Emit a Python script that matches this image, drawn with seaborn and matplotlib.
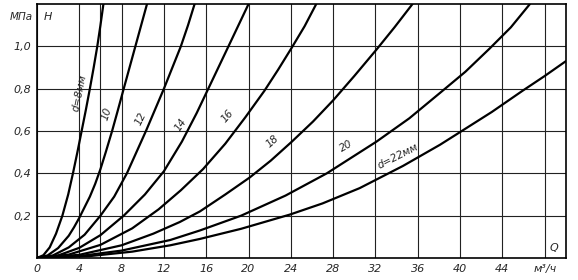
import numpy as np
import pandas as pd
import matplotlib
matplotlib.use("Agg")
import matplotlib.pyplot as plt
import seaborn as sns

# Flow Q (m3/h) and head H (MPa), one curve per nozzle diameter
q_d8 = [0, 0.6, 1.2, 1.8, 2.4, 2.95, 3.4, 3.82, 4.22, 4.62, 5.0, 5.36, 5.7, 6.0, 6.28]
h_d8 = [0, 0.013, 0.05, 0.115, 0.2, 0.3, 0.4, 0.5, 0.6, 0.7, 0.8, 0.9, 1.0, 1.1, 1.2]
q_d10 = [0, 1.0, 2.0, 3.0, 3.5, 4.0, 4.5, 5.0, 5.5, 6.0, 6.5, 7.1, 7.6, 8.2, 8.75, 9.3, 9.85, 10.4]
h_d10 = [0, 0.012, 0.047, 0.105, 0.145, 0.19, 0.24, 0.29, 0.35, 0.42, 0.5, 0.6, 0.69, 0.8, 0.9, 1.0, 1.1, 1.2]
q_d12 = [0, 1.5, 3.0, 4.5, 6.0, 7.3, 8.5, 9.4, 10.3, 11.15, 12.0, 12.8, 13.6, 14.28, 14.9]
h_d12 = [0, 0.012, 0.05, 0.11, 0.2, 0.29, 0.4, 0.5, 0.6, 0.7, 0.8, 0.9, 1.0, 1.1, 1.2]
q_d14 = [0, 2.0, 4.0, 6.0, 8.2, 10.2, 12.0, 13.7, 15.1, 16.1, 17.1, 18.1, 19.05, 20.0]
h_d14 = [0, 0.012, 0.048, 0.108, 0.2, 0.3, 0.41, 0.55, 0.685, 0.79, 0.895, 1.0, 1.1, 1.2]
q_d16 = [0, 3.0, 6.0, 9.0, 11.5, 13.6, 15.7, 17.8, 19.7, 21.5, 22.8, 24.1, 25.3, 26.4]
h_d16 = [0, 0.016, 0.062, 0.14, 0.23, 0.32, 0.42, 0.54, 0.665, 0.79, 0.89, 0.995, 1.095, 1.2]
q_d18 = [0, 4.0, 8.0, 11.0, 13.5, 15.4, 17.8, 20.1, 22.1, 24.1, 26.1, 28.0, 30.0, 32.1, 33.8, 35.5]
h_d18 = [0, 0.015, 0.06, 0.115, 0.17, 0.22, 0.3, 0.38, 0.46, 0.55, 0.645, 0.745, 0.86, 0.985, 1.09, 1.2]
q_d20 = [0, 4.0, 8.0, 12.6, 15.4, 19.3, 23.5, 27.4, 32.1, 35.2, 38.1, 40.5, 42.8, 44.8, 46.6]
h_d20 = [0, 0.009, 0.035, 0.085, 0.13, 0.2, 0.295, 0.4, 0.55, 0.66, 0.78, 0.88, 0.99, 1.09, 1.2]
q_d22 = [0, 5.0, 9.0, 12.6, 15.4, 19.3, 23.9, 27.0, 30.5, 34.6, 38.1, 40.0, 43.0, 45.9, 48.0, 50.0]
h_d22 = [0, 0.009, 0.03, 0.06, 0.09, 0.138, 0.205, 0.258, 0.33, 0.435, 0.535, 0.595, 0.69, 0.79, 0.86, 0.93]

diameters = [8, 10, 12, 14, 16, 18, 20, 22]
curve_labels = ["d=8мм", "10", "12", "14", "16", "18", "20", "d=22мм"]
x_ticks = [0, 4, 8, 12, 16, 20, 24, 28, 32, 36, 40, 44, 48]
x_tick_labels = ["0", "4", "8", "12", "16", "20", "24", "28", "32", "36", "40", "44", "м³/ч"]
y_ticks = [0.2, 0.4, 0.6, 0.8, 1.0]
y_tick_labels = ["0,2", "0,4", "0,6", "0,8", "1,0"]

qs = [q_d8, q_d10, q_d12, q_d14, q_d16, q_d18, q_d20, q_d22]
hs = [h_d8, h_d10, h_d12, h_d14, h_d16, h_d18, h_d20, h_d22]
frames = []
for d, q, h in zip(diameters, qs, hs):
    frames.append(pd.DataFrame({"Q": q, "H": h, "d": d}))
df = pd.concat(frames, ignore_index=True)

sns.set_style("white")
plt.rcParams["font.family"] = ["DejaVu Sans"]

fig = plt.figure(figsize=(5.78, 2.80), dpi=100)
ax = fig.add_axes([0.064, 0.0786, 0.915, 0.907])

sns.lineplot(data=df, x="Q", y="H", hue="d", units="d", estimator=None, sort=False,
             palette=["black"] * len(diameters), linewidth=1.6, legend=False, ax=ax)
for ln in ax.get_lines():
    ln.set_solid_joinstyle("round")

ax.set_xlim(0, 50)
ax.set_ylim(0, 1.2)
ax.set_xticks(x_ticks)
ax.set_xticklabels(x_tick_labels, fontstyle="italic", fontsize=8)
ax.set_yticks(y_ticks)
ax.set_yticklabels(y_tick_labels, fontstyle="italic", fontsize=8)
ax.set_xticks(np.arange(2, 50, 4), minor=True)
ax.set_yticks(np.arange(0.1, 1.2, 0.2), minor=True)
ax.tick_params(axis="both", which="major", length=0, pad=4)
ax.tick_params(axis="both", which="minor", length=3, direction="in", width=0.8)
ax.grid(True, which="major", color="#222222", linewidth=0.8)
ax.axvline(6, color="#222222", linewidth=0.8, zorder=0.5)
ax.set_xlabel("")
ax.set_ylabel("")
for s in ax.spines.values():
    s.set_color("black")
    s.set_linewidth(1.2)

# axis annotations
ax.text(-1.45, 1.14, "МПа", fontsize=7.5, fontstyle="italic", ha="center", va="center", clip_on=False)
ax.text(1.0, 1.14, "H", fontsize=8, fontstyle="italic", ha="center", va="center")
ax.text(48.9, 0.045, "Q", fontsize=8, fontstyle="italic", ha="center", va="center")

# curve labels
label_pos = [(4.0, 0.78, 78), (6.6, 0.68, 72), (9.8, 0.66, 64), (13.6, 0.63, 56),
             (18.0, 0.67, 50), (22.3, 0.55, 42), (29.2, 0.53, 30), (34.1, 0.48, 27)]
for lab, (x, y, r) in zip(curve_labels, label_pos):
    ax.text(x, y, lab, fontsize=7.5, fontstyle="italic", rotation=r,
            ha="center", va="center", rotation_mode="anchor")

fig.savefig("out.png", dpi=100)
